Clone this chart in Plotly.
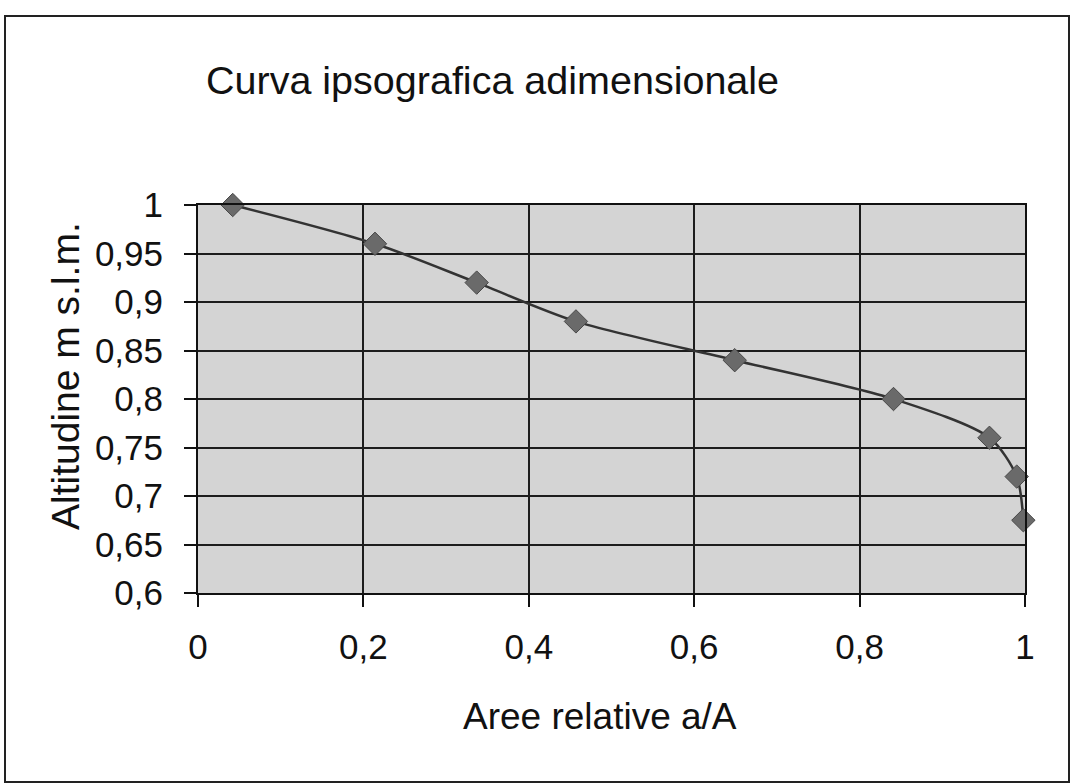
import plotly.graph_objects as go

# Curva ipsografica adimensionale: relative area (a/A) vs relative altitude
aree_relative = [0.042, 0.214, 0.337, 0.457, 0.649, 0.841, 0.957, 0.990, 0.998]
altitudine_rel = [1.00, 0.96, 0.92, 0.88, 0.84, 0.80, 0.76, 0.72, 0.675]

x_tick_vals = [0, 0.2, 0.4, 0.6, 0.8, 1]
x_tick_text = ["0", "0,2", "0,4", "0,6", "0,8", "1"]
y_tick_vals = [0.6, 0.65, 0.7, 0.75, 0.8, 0.85, 0.9, 0.95, 1]
y_tick_text = ["0,6", "0,65", "0,7", "0,75", "0,8", "0,85", "0,9", "0,95", "1"]

FONT = "Liberation Sans, Arial, sans-serif"
W, H = 1072, 784
L, R, T, B = 198, 47, 205, 191
PW, PH = W - L - R, H - T - B


def px(xpix):
    return (xpix - L) / PW


def py(ypix):
    return (H - B - ypix) / PH


fig = go.Figure()
fig.add_trace(go.Scatter(
    x=aree_relative,
    y=altitudine_rel,
    mode="lines+markers",
    line=dict(color="#333333", width=2.5, shape="spline", smoothing=0.8),
    marker=dict(symbol="diamond", size=18, color="#6a6a6a",
                line=dict(color="#484848", width=1)),
    cliponaxis=False,
    showlegend=False,
))

axis_common = dict(
    showline=True, linecolor="#111111", linewidth=2, mirror=True,
    showgrid=True, gridcolor="#1c1c1c", gridwidth=2,
    ticks="outside", ticklen=12, tickwidth=2, tickcolor="#111111",
    tickfont=dict(family=FONT, size=35, color="#111111"),
    zeroline=False,
)

fig.update_xaxes(range=[0, 1], tickvals=x_tick_vals, ticktext=x_tick_text,
                 ticklabelstandoff=10, **axis_common)
fig.update_yaxes(range=[0.6, 1], tickvals=y_tick_vals, ticktext=y_tick_text,
                 ticklabelstandoff=14, **axis_common)

annotations = [
    dict(text="Curva ipsografica adimensionale", x=px(204), y=py(80),
         xref="paper", yref="paper", xanchor="left", yanchor="middle",
         showarrow=False, font=dict(family=FONT, size=39.5, color="#111111")),
    dict(text="Aree relative a/A", x=px(600), y=py(716),
         xref="paper", yref="paper", xanchor="center", yanchor="middle",
         showarrow=False, font=dict(family=FONT, size=37, color="#111111")),
    dict(text="Altitudine m s.l.m.", x=px(65), y=py(376), textangle=-90,
         xref="paper", yref="paper", xanchor="center", yanchor="middle",
         showarrow=False, font=dict(family=FONT, size=39, color="#111111")),
]

# Outer chart frame
shapes = [
    dict(type="rect", xref="paper", yref="paper",
         x0=px(5), x1=px(1069), y0=py(782), y1=py(16),
         line=dict(color="#222222", width=2), fillcolor="rgba(0,0,0,0)",
         layer="below"),
]

fig.update_layout(
    width=W, height=H,
    margin=dict(l=L, r=R, t=T, b=B),
    paper_bgcolor="white",
    plot_bgcolor="#d4d4d4",
    annotations=annotations,
    shapes=shapes,
)

fig.write_html("out.html")
